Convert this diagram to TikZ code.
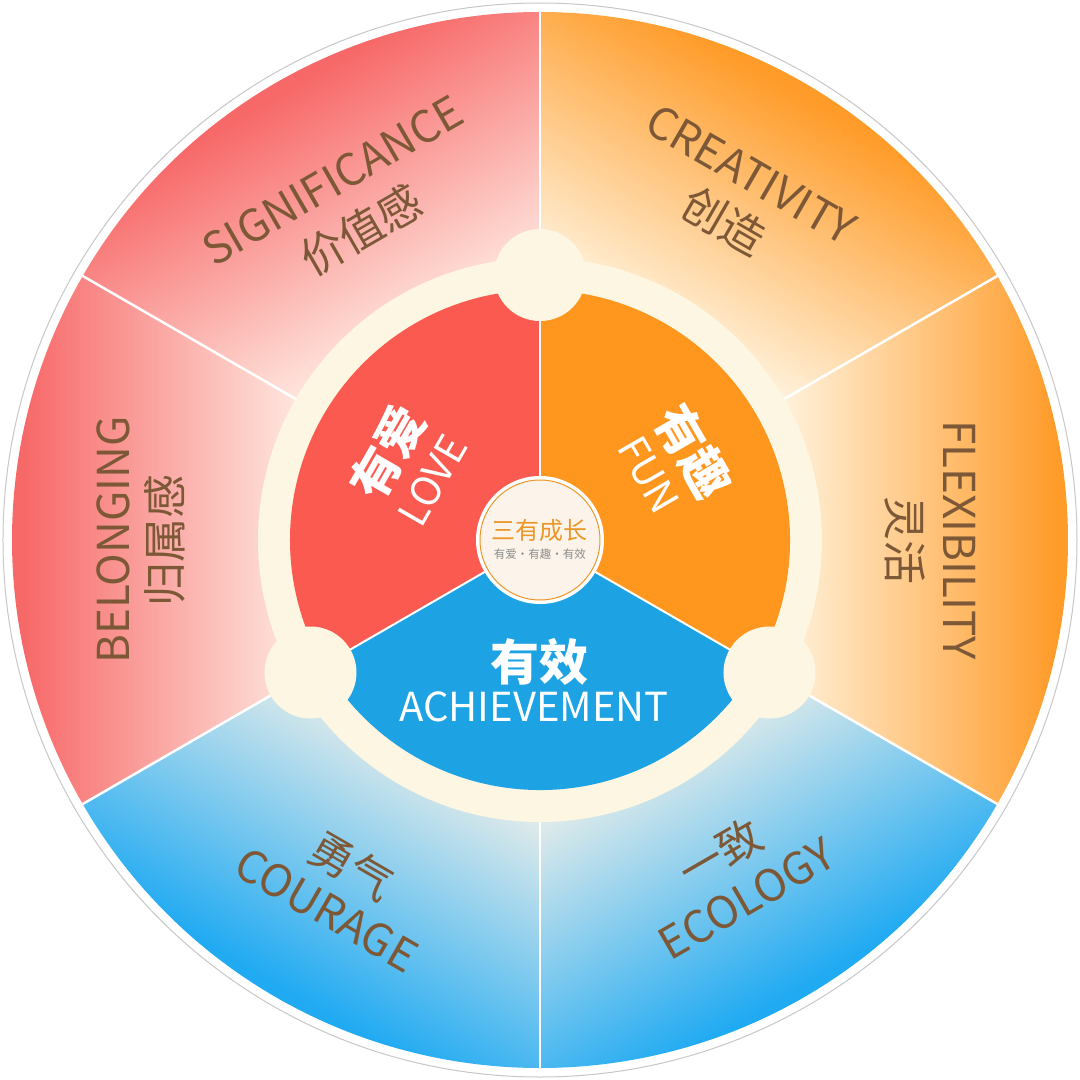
\documentclass[tikz,border=0pt]{standalone}
\usepackage{fontspec}
\setmainfont{Noto Sans CJK SC}
\usepackage{tikz}
\usetikzlibrary{positioning}

\definecolor{redout}{RGB}{247,104,104}
\definecolor{redin}{RGB}{255,236,228}
\definecolor{orangeout}{RGB}{255,155,40}
\definecolor{orangein}{RGB}{255,246,228}
\definecolor{blueout}{RGB}{32,170,242}
\definecolor{bluein}{RGB}{234,238,234}
\definecolor{lovered}{RGB}{250,90,80}
\definecolor{funorange}{RGB}{255,150,30}
\definecolor{achblue}{RGB}{29,162,228}
\definecolor{ringcream}{RGB}{253,246,226}
\definecolor{corecream}{RGB}{252,244,234}
\definecolor{textbrown}{RGB}{125,88,55}
\definecolor{coreorange}{RGB}{236,150,40}

% ring shadings: the path box spans 25bp to 75bp
\pgfdeclarehorizontalshading{redring}{100bp}{color(0bp)=(redin); color(27bp)=(redin); color(70bp)=(redout); color(100bp)=(redout)}
\pgfdeclarehorizontalshading{orangering}{100bp}{color(0bp)=(orangein); color(27bp)=(orangein); color(70bp)=(orangeout); color(100bp)=(orangeout)}
\pgfdeclarehorizontalshading{bluering}{100bp}{color(0bp)=(bluein); color(27bp)=(bluein); color(70bp)=(blueout); color(100bp)=(blueout)}

\begin{document}
\begin{tikzpicture}[
    outerlabel/.style={
        text=textbrown,
        inner sep=0pt,
        font=\fontsize{44}{50}\selectfont
    },
    innercn/.style={
        text=white,
        inner sep=0pt,
        font=\bfseries\fontsize{49}{54}\selectfont
    },
    inneren/.style={
        text=white,
        inner sep=0pt,
        font=\fontsize{40}{46}\selectfont
    },
    divider/.style={
        draw=white,
        line width=2.5pt
    }
]

\useasboundingbox (-540pt,-540pt) rectangle (540pt,540pt);

% Outer rim
\draw[fill=white, draw=black!22, line width=1pt] (0,0) circle (537pt);

% Outer ring, one shaded sector per value
\begin{scope}[transform canvas={rotate=120}]
  \shade[shading=redring]
    (-30:250pt) -- (-30:528pt) arc[start angle=-30, end angle=30, radius=528pt]
    -- (30:250pt) arc[start angle=30, end angle=-30, radius=250pt] -- cycle;
\end{scope}
\begin{scope}[transform canvas={rotate=180}]
  \shade[shading=redring]
    (-30:250pt) -- (-30:528pt) arc[start angle=-30, end angle=30, radius=528pt]
    -- (30:250pt) arc[start angle=30, end angle=-30, radius=250pt] -- cycle;
\end{scope}
\begin{scope}[transform canvas={rotate=60}]
  \shade[shading=orangering]
    (-30:250pt) -- (-30:528pt) arc[start angle=-30, end angle=30, radius=528pt]
    -- (30:250pt) arc[start angle=30, end angle=-30, radius=250pt] -- cycle;
\end{scope}
\begin{scope}
  \shade[shading=orangering]
    (-30:250pt) -- (-30:528pt) arc[start angle=-30, end angle=30, radius=528pt]
    -- (30:250pt) arc[start angle=30, end angle=-30, radius=250pt] -- cycle;
\end{scope}
\begin{scope}[transform canvas={rotate=-60}]
  \shade[shading=bluering]
    (-30:250pt) -- (-30:528pt) arc[start angle=-30, end angle=30, radius=528pt]
    -- (30:250pt) arc[start angle=30, end angle=-30, radius=250pt] -- cycle;
\end{scope}
\begin{scope}[transform canvas={rotate=-120}]
  \shade[shading=bluering]
    (-30:250pt) -- (-30:528pt) arc[start angle=-30, end angle=30, radius=528pt]
    -- (30:250pt) arc[start angle=30, end angle=-30, radius=250pt] -- cycle;
\end{scope}

% Dividers of the outer ring
\draw[divider] (90:280pt)  -- (90:528pt);
\draw[divider] (30:280pt)  -- (30:528pt);
\draw[divider] (-30:280pt) -- (-30:528pt);
\draw[divider] (-90:280pt) -- (-90:528pt);
\draw[divider] (210:280pt) -- (210:528pt);
\draw[divider] (150:280pt) -- (150:528pt);

% Cream ring
\fill[ringcream] (0,0) circle (282pt);

% Inner disc
\fill[lovered]   (0,0) -- (90:250pt)  arc[start angle=90,  end angle=210, radius=250pt] -- cycle;
\fill[funorange] (0,0) -- (-30:250pt) arc[start angle=-30, end angle=90,  radius=250pt] -- cycle;
\fill[achblue]   (0,0) -- (210:250pt) arc[start angle=210, end angle=330, radius=250pt] -- cycle;
\draw[draw=white, line width=2pt] (0,0) -- (90:250pt);
\draw[draw=white, line width=2pt] (0,0) -- (210:250pt);
\draw[draw=white, line width=2pt] (0,0) -- (330:250pt);

% Joints on the ring
\fill[ringcream] (90:265pt)  circle (46pt);
\fill[ringcream] (210:265pt) circle (46pt);
\fill[ringcream] (330:265pt) circle (46pt);

% Core
\fill[white] (0,0) circle (64pt);
\draw[fill=corecream, draw=coreorange, line width=1pt] (0,0) circle (60pt);
\node[text=coreorange, inner sep=0pt, font=\fontsize{24}{28}\selectfont] (core) at (0pt,10pt) {三有成长};
\node[text=black!45, inner sep=0pt, font=\fontsize{11.5}{14}\selectfont] (coresub) at (0pt,-14pt) {有爱·有趣·有效};

% Inner labels
\node[innercn, rotate=60]  (love)   at (150:176pt) {有爱};
\node[inneren, rotate=60]  (loveen) at (151:123pt) {LOVE};
\node[innercn, rotate=-60] (fun)    at (30:177pt)  {有趣};
\node[inneren, rotate=-60] (funen)  at (31:127pt)  {FUN};
\node[innercn]             (ach)    at (0pt,-122pt) {有效};
\node[inneren]             (achen)  at (-6pt,-167pt) {ACHIEVEMENT};

% Outer labels
\node[outerlabel, rotate=30]  (sig)    at (120:415pt) {SIGNIFICANCE};
\node[outerlabel, rotate=30]  (sigcn)  at (120:358pt) {价值感};
\node[outerlabel, rotate=-30] (cre)    at (60:422pt)  {CREATIVITY};
\node[outerlabel, rotate=-30] (crecn)  at (60:368pt)  {创造};
\node[outerlabel, rotate=-90] (flex)   at (0:420pt)   {FLEXIBILITY};
\node[outerlabel, rotate=-90] (flexcn) at (0:365pt)   {灵活};
\node[outerlabel, rotate=30]  (eco)    at (-60:414pt) {ECOLOGY};
\node[outerlabel, rotate=30]  (ecocn)  at (-60:361pt) {一致};
\node[outerlabel, rotate=-30] (cou)    at (240:427pt) {COURAGE};
\node[outerlabel, rotate=-30] (coucn)  at (240:377pt) {勇气};
\node[outerlabel, rotate=90]  (bel)    at (180:427pt) {BELONGING};
\node[outerlabel, rotate=90]  (belcn)  at (180:375pt) {归属感};

\end{tikzpicture}
\end{document}
